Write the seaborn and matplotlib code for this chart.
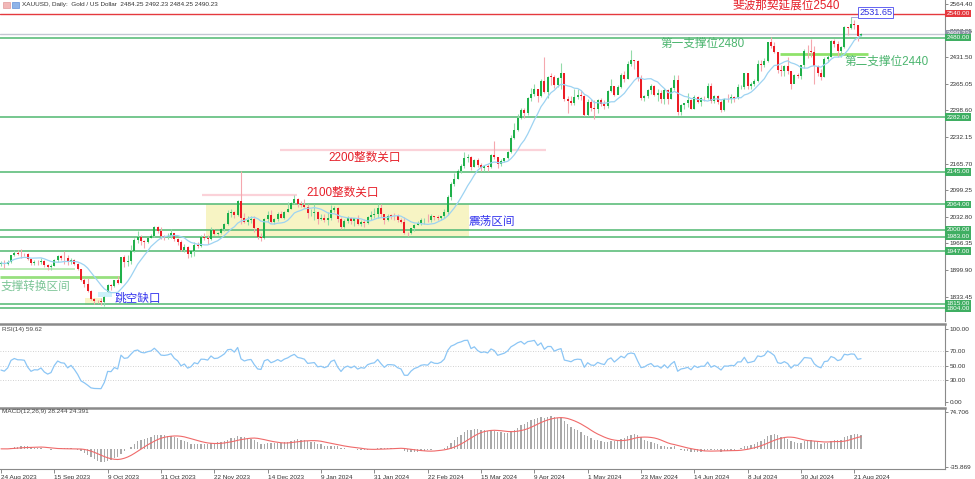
import numpy as np
import pandas as pd
import matplotlib
matplotlib.use("Agg")
import matplotlib.pyplot as plt
import matplotlib.transforms as mtransforms
from matplotlib.patches import Rectangle
import seaborn as sns

# ---------------- data ----------------
first_open = 1915.0
gap_opens = {"2023-10-09": 1846.0, "2024-08-23": 2484.25}
holidays = ["2023-12-25", "2024-01-01", "2024-03-29"]

close_2023_08 = [1917.3, 1914.7, 1920.5, 1937.3, 1942.5, 1940.1]
high_2023_08 = [1922, 1924, 1925, 1938, 1949, 1949]
low_2023_08 = [1911, 1904, 1913, 1917, 1934, 1937]

close_2023_09 = [1940.0, 1939.3, 1926.3, 1916.3, 1919.3, 1918.8, 1922.4, 1913.2, 1907.9, 1910.4, 1923.8,
                 1934.5, 1931.0, 1930.1, 1920.0, 1925.4, 1915.9, 1901.3, 1874.6, 1864.1, 1848.6]
high_2023_09 = [1953, 1943, 1942, 1928, 1924, 1924, 1930, 1925, 1915, 1915, 1928,
                1937, 1937, 1947, 1937, 1930, 1927, 1917, 1903, 1880, 1879]
low_2023_09 = [1931, 1936, 1924, 1913, 1913, 1913, 1915, 1908, 1901, 1901, 1909,
               1920, 1926, 1915, 1913, 1916, 1912, 1900, 1873, 1858, 1846]

close_2023_10 = [1827.6, 1822.1, 1821.6, 1820.3, 1832.8, 1861.9, 1860.8, 1874.0, 1868.4, 1932.8, 1920.1,
                 1923.4, 1947.5, 1974.3, 1981.1, 1972.8, 1970.8, 1979.5, 1984.6, 2006.4, 1996.2, 1983.7]
high_2023_10 = [1850, 1831, 1826, 1829, 1834, 1864, 1865, 1875, 1885, 1933, 1938,
                1937, 1962, 1979, 1997, 1987, 1975, 1981, 1990, 2009, 2010, 2008]
low_2023_10 = [1826, 1815, 1817, 1813, 1810, 1846, 1850, 1858, 1866, 1867, 1908,
               1910, 1914, 1944, 1968, 1963, 1955, 1968, 1979, 1983, 1992, 1977]

close_2023_11 = [1982.6, 1985.6, 1992.6, 1977.9, 1969.5, 1950.0, 1957.9, 1940.4, 1946.2, 1963.2, 1959.0,
                 1981.1, 1980.6, 1977.9, 1998.7, 1990.2, 1992.1, 2001.8, 2014.0, 2041.3, 2044.4, 2036.4]
high_2023_11 = [1988, 1993, 2003, 1993, 1980, 1974, 1965, 1959, 1948, 1970, 1970,
                1988, 1993, 1987, 2007, 2003, 1996, 2004, 2018, 2049, 2052, 2048]
low_2023_11 = [1974, 1978, 1981, 1972, 1962, 1948, 1944, 1931, 1932, 1936, 1956,
               1957, 1975, 1965, 1975, 1987, 1987, 1991, 1997, 2012, 2032, 2031]

close_2023_12 = [2071.8, 2029.0, 2019.1, 2025.6, 2028.2, 2004.4, 1981.7, 1979.0, 2027.0, 2036.1,
                 2019.4, 2027.5, 2039.6, 2031.0, 2045.0, 2053.0, 2067.0, 2077.5, 2065.2, 2062.5]
high_2023_12 = [2075, 2146, 2042, 2036, 2035, 2036, 2005, 1992, 2030, 2047,
                2049, 2029, 2045, 2047, 2047, 2071, 2070, 2088, 2079, 2073]
low_2023_12 = [2034, 2015, 2017, 2012, 2017, 1996, 1977, 1973, 1978, 2019,
               2018, 2016, 2022, 2030, 2028, 2044, 2052, 2064, 2058, 2058]

close_2024_01 = [2058.5, 2041.2, 2043.0, 2045.0, 2027.6, 2030.1, 2024.2, 2028.9, 2049.0, 2055.2, 2028.0,
                 2006.4, 2023.2, 2029.3, 2021.2, 2028.7, 2014.9, 2020.7, 2018.2, 2032.0, 2037.0, 2039.5]
high_2024_01 = [2078, 2065, 2053, 2064, 2047, 2041, 2040, 2044, 2062, 2060, 2058,
                2032, 2027, 2035, 2033, 2031, 2037, 2024, 2028, 2036, 2048, 2056]
low_2024_01 = [2056, 2030, 2035, 2025, 2016, 2025, 2019, 2013, 2026, 2046, 2019,
               2002, 2005, 2018, 2014, 2011, 2012, 2010, 2008, 2016, 2025, 2030]

close_2024_02 = [2054.0, 2039.3, 2024.8, 2035.6, 2035.4, 2034.0, 2024.5, 2019.9, 1992.4, 1992.0, 2004.6,
                 2013.2, 2017.1, 2024.0, 2025.8, 2024.5, 2035.4, 2031.4, 2030.7, 2034.4, 2044.3]
high_2024_02 = [2065, 2066, 2040, 2039, 2040, 2043, 2040, 2029, 2032, 1996, 2006,
                2015, 2022, 2030, 2031, 2041, 2041, 2036, 2037, 2036, 2052]
low_2024_02 = [2031, 2033, 2015, 2022, 2028, 2026, 2021, 2017, 1990, 1985, 1989,
               1997, 2013, 2013, 2015, 2020, 2020, 2025, 2026, 2025, 2031]

close_2024_03 = [2082.9, 2114.6, 2127.5, 2148.2, 2159.7, 2178.8, 2182.1, 2158.2, 2174.7, 2162.3,
                 2155.8, 2160.3, 2157.0, 2186.4, 2181.2, 2165.5, 2171.9, 2179.0, 2194.8, 2229.8]
high_2024_03 = [2088, 2119, 2141, 2152, 2165, 2195, 2189, 2185, 2178, 2179,
                2166, 2163, 2164, 2190, 2223, 2183, 2176, 2180, 2197, 2236]
low_2024_03 = [2038, 2076, 2110, 2126, 2141, 2154, 2170, 2150, 2156, 2156,
               2146, 2148, 2146, 2155, 2177, 2155, 2160, 2170, 2177, 2192]

close_2024_04 = [2250.8, 2280.0, 2300.2, 2290.9, 2329.8, 2339.0, 2352.1, 2333.6, 2372.2, 2344.3, 2383.2,
                 2383.0, 2361.2, 2379.3, 2391.8, 2327.2, 2322.2, 2316.1, 2332.4, 2337.2, 2335.3, 2286.3]
high_2024_04 = [2266, 2289, 2305, 2305, 2331, 2354, 2365, 2353, 2378, 2431, 2385,
                2392, 2388, 2381, 2418, 2393, 2334, 2335, 2352, 2353, 2350, 2337]
low_2024_04 = [2228, 2248, 2277, 2280, 2287, 2323, 2334, 2320, 2331, 2342, 2329,
               2363, 2354, 2358, 2353, 2322, 2292, 2311, 2311, 2326, 2324, 2285]

close_2024_05 = [2320.2, 2303.6, 2301.5, 2323.4, 2314.6, 2309.3, 2346.5, 2360.3, 2336.0, 2358.3, 2385.9, 2376.6,
                 2415.2, 2425.2, 2421.5, 2379.2, 2329.0, 2334.0, 2350.4, 2360.8, 2338.1, 2343.1, 2327.1]
high_2024_05 = [2326, 2327, 2324, 2326, 2330, 2324, 2349, 2378, 2360, 2363, 2392, 2398,
                2422, 2450, 2425, 2425, 2386, 2337, 2352, 2364, 2362, 2351, 2349]
low_2024_05 = [2285, 2297, 2277, 2293, 2310, 2302, 2305, 2344, 2334, 2341, 2354, 2370,
               2376, 2410, 2403, 2373, 2325, 2322, 2329, 2340, 2335, 2322, 2316]

close_2024_06 = [2350.0, 2326.5, 2354.8, 2375.6, 2293.4, 2311.2, 2316.5, 2324.4, 2302.9, 2333.1,
                 2319.1, 2329.2, 2328.4, 2360.5, 2321.7, 2334.2, 2320.0, 2298.4, 2327.5, 2326.3]
high_2024_06 = [2354, 2353, 2357, 2388, 2387, 2314, 2318, 2342, 2327, 2336,
                2334, 2332, 2335, 2368, 2368, 2336, 2336, 2324, 2330, 2340]
low_2024_06 = [2314, 2315, 2326, 2350, 2287, 2287, 2301, 2308, 2302, 2303,
               2317, 2310, 2322, 2328, 2317, 2318, 2315, 2294, 2298, 2319]

close_2024_07 = [2331.8, 2329.7, 2356.0, 2356.0, 2391.9, 2358.9, 2364.2, 2371.4, 2415.2, 2411.2, 2422.6, 2469.3,
                 2458.7, 2445.2, 2400.4, 2396.0, 2409.5, 2397.6, 2364.8, 2387.1, 2384.0, 2410.8, 2447.7]
high_2024_07 = [2339, 2335, 2365, 2363, 2393, 2393, 2370, 2378, 2424, 2425, 2430, 2470,
                2483, 2470, 2444, 2412, 2412, 2431, 2398, 2389, 2392, 2413, 2451]
low_2024_07 = [2318, 2319, 2327, 2352, 2353, 2352, 2353, 2360, 2370, 2397, 2408, 2420,
               2455, 2443, 2393, 2385, 2384, 2389, 2353, 2366, 2379, 2378, 2405]

close_2024_08 = [2446.2, 2443.6, 2409.7, 2390.9, 2382.1, 2427.4, 2431.5, 2472.6, 2465.3,
                 2447.6, 2456.1, 2507.8, 2504.1, 2513.8, 2512.5, 2484.9, 2490.23]
high_2024_08 = [2462, 2477, 2460, 2411, 2402, 2432, 2437, 2474, 2477,
                2472, 2460, 2509, 2508, 2531.65, 2525, 2509, 2492.23]
low_2024_08 = [2430, 2432, 2364, 2385, 2375, 2381, 2420, 2431, 2458,
               2432, 2432, 2455, 2487, 2502, 2502, 2471, 2484.25]

tick_labels = ["24 Aug 2023", "15 Sep 2023", "9 Oct 2023", "31 Oct 2023", "22 Nov 2023",
               "14 Dec 2023", "9 Jan 2024", "31 Jan 2024", "22 Feb 2024", "15 Mar 2024",
               "9 Apr 2024", "1 May 2024", "23 May 2024", "14 Jun 2024", "8 Jul 2024",
               "30 Jul 2024", "21 Aug 2024"]
main_ticks = [2564.40, 2497.95, 2431.50, 2365.05, 2298.60, 2232.15, 2165.70,
              2099.25, 2032.80, 1966.35, 1899.90, 1833.45]
rsi_ticks = [100, 70, 50, 30, 0]
macd_ticks = [74.706, -35.869]
support_levels = [2480, 2282, 2145, 2064, 2000, 1983, 1947, 1815, 1804]
fib_level = 2540
last_price = 2490.23
record_high = 2531.65
second_support = 2440
round_2200 = 2200
round_2100 = 2087
switch_zone = [1902, 1882]
range_box = [1983, 2064]
gap_zone = [1833, 1846]
header = "XAUUSD, Daily:  Gold / US Dollar  2484.25 2492.23 2484.25 2490.23"
rsi_label = "RSI(14) 59.62"
macd_label = "MACD(12,26,9) 28.244 24.391"

# ---------------- assemble ----------------
closes = (close_2023_08 + close_2023_09 + close_2023_10 + close_2023_11 + close_2023_12 +
          close_2024_01 + close_2024_02 + close_2024_03 + close_2024_04 + close_2024_05 +
          close_2024_06 + close_2024_07 + close_2024_08)
highs = (high_2023_08 + high_2023_09 + high_2023_10 + high_2023_11 + high_2023_12 +
         high_2024_01 + high_2024_02 + high_2024_03 + high_2024_04 + high_2024_05 +
         high_2024_06 + high_2024_07 + high_2024_08)
lows = (low_2023_08 + low_2023_09 + low_2023_10 + low_2023_11 + low_2023_12 +
        low_2024_01 + low_2024_02 + low_2024_03 + low_2024_04 + low_2024_05 +
        low_2024_06 + low_2024_07 + low_2024_08)

dates = pd.bdate_range("2023-08-24", "2024-08-23")
dates = dates[~dates.isin(pd.to_datetime(holidays))]
n = min(len(dates), len(closes), len(highs), len(lows))
df = pd.DataFrame({"date": dates[:n], "close": closes[:n], "high": highs[:n], "low": lows[:n]})
df["open"] = df["close"].shift(1)
df.loc[0, "open"] = first_open
for d, v in gap_opens.items():
    df.loc[df["date"] == pd.Timestamp(d), "open"] = v
df["idx"] = np.arange(n)

s = df["close"]
df["ma"] = s.rolling(10, min_periods=1).mean()

# RSI(14), Wilder smoothing seeded with the first 14 changes
delta = s.diff().fillna(0).to_numpy()
g = np.clip(delta, 0, None)
lo = np.clip(-delta, 0, None)
ag, al = g[1:15].mean(), lo[1:15].mean()
rsi = np.empty(n)
for i in range(n):
    if i > 0:
        ag = (ag * 13 + g[i]) / 14
        al = (al * 13 + lo[i]) / 14
    rsi[i] = 100.0 if al == 0 else 100 - 100 / (1 + ag / al)
df["rsi"] = rsi

ema12 = s.ewm(span=12, adjust=False).mean()
ema26 = s.ewm(span=26, adjust=False).mean()
df["macd"] = ema12 - ema26
df["signal"] = df["macd"].rolling(9, min_periods=1).mean()

tick_pos = []
for lab in tick_labels:
    d = pd.to_datetime(lab, format="%d %b %Y")
    m = df.index[df["date"] == d]
    tick_pos.append(int(m[0]) if len(m) else 0)

# ---------------- style ----------------
sns.set_style("white")
plt.rcParams["font.family"] = ["Liberation Sans", "Noto Sans CJK SC", "DejaVu Sans"]

W, H = 975, 479
fig = plt.figure(figsize=(W / 100, H / 100), dpi=100)
fig.patch.set_facecolor("white")


def fx(x):
    return x / W


def fy(y):
    return 1 - y / H


XL = (-0.3, 283.2)
ax = fig.add_axes([0, fy(321), 945 / W, 321 / H])
ax_r = fig.add_axes([0, fy(405), 945 / W, (405 - 324) / H])
ax_m = fig.add_axes([0, fy(469), 945 / W, (469 - 408) / H])

UP, DN = "#1fb04a", "#ec1c24"
UPW, DNW = "#93dba9", "#f5a7ae"
GREEN_LINE = "#5dbd7c"
BOX_GREEN = "#3fae62"
SMALL = 4.6

# ---------------- main panel ----------------
ax.add_patch(Rectangle((61.5, range_box[0]), 140.4 - 61.5, range_box[1] - range_box[0],
                       facecolor="#f7f4c4", edgecolor="none", zorder=0.5))
ax.add_patch(Rectangle((29.1, gap_zone[0]), 4.2, gap_zone[1] - gap_zone[0],
                       facecolor="#cdf1fa", edgecolor="none", zorder=0.6))
ax.add_patch(Rectangle((25.2, 1812), 5.1, 18, facecolor="#f8f5c8", edgecolor="none", zorder=0.6))

for lv in support_levels:
    ax.axhline(lv, color=GREEN_LINE, lw=1.2, zorder=1)
ax.axhline(fib_level, color="#e5393e", lw=1.0, zorder=1)
ax.axhline(last_price, color="#c3c7d2", lw=1.0, zorder=1)
ax.hlines(round_2200, 83.7, 163.5, color="#fbd2d9", lw=1.6, zorder=1)
ax.hlines(round_2100, 60.3, 88.8, color="#fbd2d9", lw=1.6, zorder=1)
ax.hlines(switch_zone[0], XL[0], 22.2, color="#b9e9b4", lw=1.3, zorder=1)
ax.hlines(switch_zone[1], XL[0], 35.7, color="#97e07e", lw=2.0, zorder=1)
ax.hlines(second_support, 233.7, 260.1, color="#8fe26a", lw=2.0, zorder=1)

o = df["open"].to_numpy(); c = df["close"].to_numpy()
h = df["high"].to_numpy(); l = df["low"].to_numpy()
x = df["idx"].to_numpy()
up = c >= o
bb = np.minimum(o, c)
bh = np.maximum(np.abs(c - o), 0.9)
ax.vlines(x[up], l[up], h[up], color=UPW, lw=0.8, zorder=2)
ax.vlines(x[~up], l[~up], h[~up], color=DNW, lw=0.8, zorder=2)
ax.bar(x[up], bh[up], bottom=bb[up], width=0.62, color=UP, linewidth=0, zorder=3)
ax.bar(x[~up], bh[~up], bottom=bb[~up], width=0.62, color=DN, linewidth=0, zorder=3)
sns.lineplot(x=x, y=df["ma"].to_numpy(), ax=ax, color="#9dd3f2", lw=0.9, zorder=4, legend=False)

ax.set_xlim(*XL)
ax.set_ylim(1772.5, 2574.4)
ax.yaxis.tick_right()
ax.set_yticks(main_ticks)
ax.set_yticklabels([f"{v:.2f}" for v in main_ticks])
ax.set_xticks([])
ax.tick_params(axis="y", length=2.5, width=0.6, color="#777777", labelsize=SMALL,
               pad=1, labelcolor="#333333", right=True, left=False)
for sp in ["top", "left", "bottom"]:
    ax.spines[sp].set_visible(False)
ax.spines["right"].set_color("#8a8a8a")
ax.spines["right"].set_linewidth(0.8)
ax.set_xlabel(""); ax.set_ylabel("")

tr = mtransforms.blended_transform_factory(ax.transAxes, ax.transData)
xb = 946.5 / 945


def price_box(val, fc, txt=None):
    ax.text(xb, val, txt if txt else f"{val:.2f}", transform=tr, ha="left", va="center",
            fontsize=SMALL, color="white", zorder=10, clip_on=False,
            bbox=dict(boxstyle="square,pad=0.18", facecolor=fc, edgecolor="none"))


for lv in support_levels:
    price_box(lv, BOX_GREEN)
price_box(fib_level, "#e5393e")
price_box(last_price, "#8d95a6")
price_box(2480, BOX_GREEN)

# record high marker
hi_idx = int(np.argmax(h))
ax.plot([hi_idx, hi_idx + 2.2], [record_high, record_high], color="#9a9ad8", lw=0.6, zorder=5)
ax.text(hi_idx + 2.4, record_high, f"{record_high:.2f}", ha="left", va="bottom", fontsize=6.6,
        color="#2f2fe0", zorder=11,
        bbox=dict(boxstyle="square,pad=0.15", facecolor="white", edgecolor="#4a4af0", lw=0.6))

# ---------------- annotations ----------------
CJK = 8.4
RED_T, GREEN_T, BLUE_T = "#e6202a", "#4cb56f", "#3535ee"
fig.text(fx(733), fy(6), "斐波那契延展位2540", fontsize=CJK, color=RED_T, va="center", ha="left")
fig.text(fx(660), fy(44), "第一支撑位2480", fontsize=CJK, color=GREEN_T, va="center", ha="left")
fig.text(fx(844), fy(62), "第二支撑位2440", fontsize=CJK, color=GREEN_T, va="center", ha="left")
fig.text(fx(328), fy(158), "2200整数关口", fontsize=CJK, color=RED_T, va="center", ha="left")
fig.text(fx(306), fy(193), "2100整数关口", fontsize=CJK, color=RED_T, va="center", ha="left")
fig.text(fx(469), fy(222), "震荡区间", fontsize=CJK, color=BLUE_T, va="center", ha="left")
fig.text(fx(115), fy(299), "跳空缺口", fontsize=CJK, color=BLUE_T, va="center", ha="left")
fig.text(fx(0.5), fy(287), "支撑转换区间", fontsize=CJK, color="#7cc597", va="center", ha="left")

fig.text(fx(22), fy(4.5), header, fontsize=SMALL, color="#333333", va="center", ha="left")
fig.patches.append(Rectangle((fx(3), fy(8)), 7 / W, 6 / H, transform=fig.transFigure,
                             facecolor="#f2b8b8", edgecolor="#d88a8a", lw=0.4))
fig.patches.append(Rectangle((fx(12), fy(8)), 7 / W, 6 / H, transform=fig.transFigure,
                             facecolor="#8fb4e8", edgecolor="#4a7fd0", lw=0.4))

# ---------------- RSI panel ----------------
for lv in [70, 50, 30]:
    ax_r.axhline(lv, color="#c2c2c2", lw=0.6, ls=(0, (1, 2)), zorder=1)
sns.lineplot(x=x, y=df["rsi"].to_numpy(), ax=ax_r, color="#8cc6f5", lw=0.9, zorder=3, legend=False)
ax_r.set_xlim(*XL)
ax_r.set_ylim(-3.7, 106.8)
ax_r.yaxis.tick_right()
ax_r.set_yticks(rsi_ticks)
ax_r.set_yticklabels([f"{v:.2f}" for v in rsi_ticks])
ax_r.set_xticks([])
ax_r.tick_params(axis="y", length=2.5, width=0.6, color="#777777", labelsize=SMALL,
                 pad=1, labelcolor="#333333", right=True, left=False)
for sp in ["left", "bottom"]:
    ax_r.spines[sp].set_visible(False)
ax_r.spines["top"].set_color("#8a8a8a"); ax_r.spines["top"].set_linewidth(1.8)
ax_r.spines["right"].set_color("#8a8a8a"); ax_r.spines["right"].set_linewidth(0.8)
ax_r.set_xlabel(""); ax_r.set_ylabel("")
fig.text(fx(2), fy(330), rsi_label, fontsize=SMALL, color="#444444", va="center", ha="left")

# ---------------- MACD panel ----------------
ax_m.bar(x, df["macd"].to_numpy(), width=0.36, color="#a9a9a9", linewidth=0, zorder=2)
sns.lineplot(x=x, y=df["signal"].to_numpy(), ax=ax_m, color="#f06a6a", lw=0.8, zorder=3, legend=False)
ax_m.set_xlim(*XL)
ax_m.set_ylim(-40.5, 82.1)
ax_m.yaxis.tick_right()
ax_m.set_yticks(macd_ticks)
ax_m.set_yticklabels([f"{v:.3f}" for v in macd_ticks])
ax_m.tick_params(axis="y", length=2.5, width=0.6, color="#777777", labelsize=SMALL,
                 pad=1, labelcolor="#333333", right=True, left=False)
ax_m.set_xticks(tick_pos)
ax_m.set_xticklabels(tick_labels, ha="left")
ax_m.tick_params(axis="x", length=3, width=0.6, color="#777777", labelsize=SMALL,
                 pad=1.2, labelcolor="#333333", bottom=True)
ax_m.spines["left"].set_visible(False)
ax_m.spines["top"].set_color("#8a8a8a"); ax_m.spines["top"].set_linewidth(1.8)
ax_m.spines["right"].set_color("#8a8a8a"); ax_m.spines["right"].set_linewidth(0.8)
ax_m.spines["bottom"].set_color("#8a8a8a"); ax_m.spines["bottom"].set_linewidth(0.8)
ax_m.set_xlabel(""); ax_m.set_ylabel("")
fig.text(fx(2), fy(412), macd_label, fontsize=SMALL, color="#444444", va="center", ha="left")

fig.savefig("out.png", dpi=100, facecolor="white")
